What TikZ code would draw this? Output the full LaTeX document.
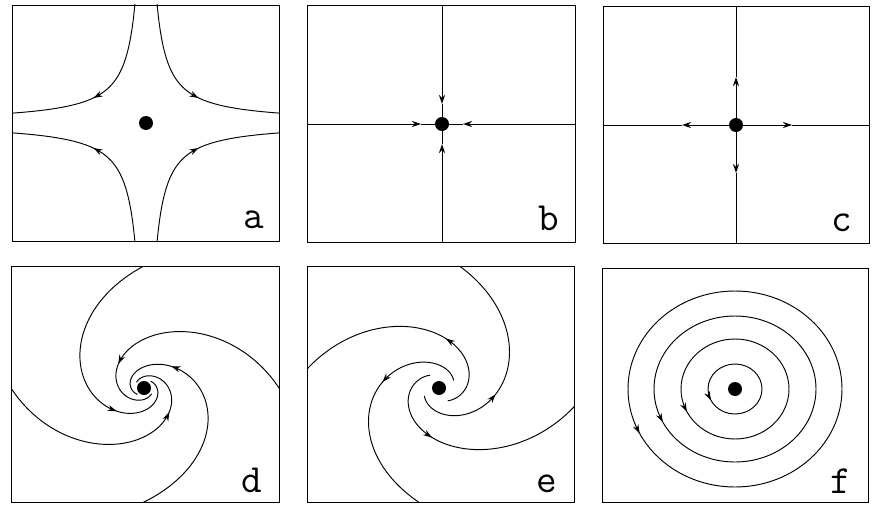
\documentclass[tikz,border=0pt]{standalone}
\usetikzlibrary{arrows.meta}
\tikzset{
  panelbox/.style={line width=0.6pt},
  traj/.style={line width=0.95pt, samples=70, smooth},
  fwd/.style={-{Stealth[length=9pt,width=6pt]}, samples=2},
  fixpt/.style={circle, fill, inner sep=0pt, minimum size=14pt},
  lab/.style={font=\ttfamily\fontsize{40}{40}\selectfont, anchor=base, inner sep=0pt}
}
% #1 cx, #2 cy, #3 sx, #4 sy, #5 start angle, #6 direction, #7 t0, #8 t1, #9 extra style
\newcommand\spirseg[9]{%
  \draw[traj,#9] plot[domain=#7:#8, variable=\t]
   ({#1+#3*(0.04+0.96*exp(-0.010472*(\t)))*cos(#5+(#6)*(\t))},
    {#2+#4*(0.04+0.96*exp(-0.010472*(\t)))*sin(#5+(#6)*(\t))});}
\begin{document}
\begin{tikzpicture}[x=1pt,y=-1pt]
\useasboundingbox (0,0) rectangle (880,511);

% ---------- panel a : saddle ----------
\draw[panelbox] (12,5) rectangle (279,241);
\node[fixpt] (a0) at (146,123) {};
\begin{scope}
  \clip (12,5) rectangle (279,241);
  \foreach \sx/\sy in {-1/-1, 1/-1, -1/1, 1/1} {
    \draw[traj] plot[domain=-1.6:1.6, variable=\t]
      ({146+(\sx)*36.3*exp(\t)},{123+(\sy)*36.3*exp(-(\t))});
    \draw[traj,fwd] plot[domain=0.28:0.37, variable=\t]
      ({146+(\sx)*36.3*exp(\t)},{123+(\sy)*36.3*exp(-(\t))});
  }
\end{scope}
\node[lab] (la) at (254,228) {a};

% ---------- panel b : stable node ----------
\draw[panelbox] (307,5) rectangle (575,242);
\node[fixpt] (b0) at (442,124) {};
\coordinate (bW) at (307,124); \coordinate (bE) at (575,124);
\coordinate (bN) at (442,5);   \coordinate (bS) at (442,242);
\coordinate (bWt) at (421,124); \coordinate (bEt) at (463,124);
\coordinate (bNt) at (442,104); \coordinate (bSt) at (442,144);
\draw[traj,fwd] (bW) -- (bWt); \draw[traj] (bWt) -- (b0);
\draw[traj,fwd] (bE) -- (bEt); \draw[traj] (bEt) -- (b0);
\draw[traj,fwd] (bN) -- (bNt); \draw[traj] (bNt) -- (b0);
\draw[traj,fwd] (bS) -- (bSt); \draw[traj] (bSt) -- (b0);
\node[lab] (lb) at (549,230) {b};

% ---------- panel c : unstable node ----------
\draw[panelbox] (603,6) rectangle (869,243);
\node[fixpt] (c0) at (736,125) {};
\coordinate (cW) at (603,125); \coordinate (cE) at (869,125);
\coordinate (cN) at (736,6);   \coordinate (cS) at (736,243);
\coordinate (cWt) at (682,125); \coordinate (cEt) at (792,125);
\coordinate (cNt) at (736,77);  \coordinate (cSt) at (736,173);
\draw[traj,fwd] (c0) -- (cWt); \draw[traj] (cWt) -- (cW);
\draw[traj,fwd] (c0) -- (cEt); \draw[traj] (cEt) -- (cE);
\draw[traj,fwd] (c0) -- (cNt); \draw[traj] (cNt) -- (cN);
\draw[traj,fwd] (c0) -- (cSt); \draw[traj] (cSt) -- (cS);
\node[lab] (lc) at (842,231) {c};

% ---------- panel d : stable spiral ----------
\draw[panelbox] (11,266) rectangle (279,502);
\node[fixpt] (d0) at (144,388) {};
\begin{scope}
  \clip (11,266) rectangle (279,502);
  \spirseg{144}{388}{134}{122}{270}{-1}{-30}{319}{}
  \spirseg{144}{388}{134}{122}{270}{-1}{128}{133}{fwd}
  \spirseg{144}{388}{135}{118}{0}{-1}{-30}{319}{}
  \spirseg{144}{388}{135}{118}{0}{-1}{128}{133}{fwd}
  \spirseg{144}{388}{133}{118}{180}{-1}{-30}{319}{}
  \spirseg{144}{388}{133}{118}{180}{-1}{128}{133}{fwd}
  \spirseg{144}{388}{134}{114}{90}{-1}{-30}{319}{}
  \spirseg{144}{388}{134}{114}{90}{-1}{128}{133}{fwd}
\end{scope}
\node[lab] (ld) at (252,492) {d};

% ---------- panel e : unstable spiral ----------
\draw[panelbox] (307,266) rectangle (574,502);
\node[fixpt] (e0) at (439,388) {};
\begin{scope}
  \clip (307,266) rectangle (574,502);
  \spirseg{439}{388}{135}{123}{279}{1}{-30}{230}{}
  \spirseg{439}{388}{135}{123}{279}{1}{92}{88}{fwd}
  \spirseg{439}{388}{137}{118}{9}{1}{-30}{230}{}
  \spirseg{439}{388}{137}{118}{9}{1}{92}{88}{fwd}
  \spirseg{439}{388}{134}{118}{189}{1}{-30}{230}{}
  \spirseg{439}{388}{134}{118}{189}{1}{92}{88}{fwd}
  \spirseg{439}{388}{135}{115}{99}{1}{-30}{230}{}
  \spirseg{439}{388}{135}{115}{99}{1}{92}{88}{fwd}
\end{scope}
\node[lab] (le) at (547,492) {e};

% ---------- panel f : centre ----------
\draw[panelbox] (602,268) rectangle (868,502);
\node[fixpt] (f0) at (735,389) {};
\foreach \rx/\ry in {27/25, 54/50, 81/73, 107/98} {
  \draw[traj] (f0.center) ellipse [x radius=\rx pt, y radius=\ry pt];
  \draw[traj,fwd] plot[domain=157:153, variable=\t]
    ({735+\rx*cos(\t)},{389+\ry*sin(\t)});
}
\node[lab] (lf) at (841,493) {f};
\end{tikzpicture}
\end{document}
